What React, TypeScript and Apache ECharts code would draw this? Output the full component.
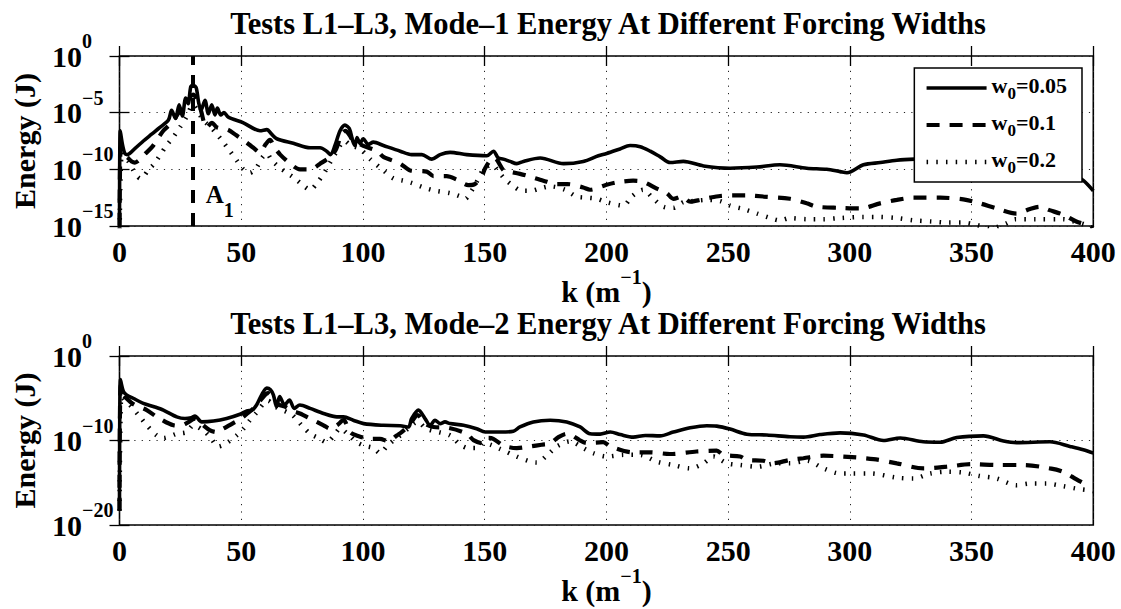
import React, { useEffect, useRef } from "react";
import * as echarts from "echarts";

const FF = "Liberation Serif";

const chartTitles = [
  "Tests L1–L3, Mode–1 Energy At Different Forcing Widths",
  "Tests L1–L3, Mode–2 Energy At Different Forcing Widths",
];
const seriesNames = ["w0=0.05", "w0=0.1", "w0=0.2"];
const kAxis = { min: 0, max: 400, step: 50 };
const energyAxes = [
  { min: -15, max: 0, step: 5 },
  { min: -20, max: 0, step: 10 },
];
const markerK = 30;
const markerLabelAt: [number, number] = [35.4, -12.78];

// [k (1/m), log10(Energy / J)]
const mode1W005: [number, number][] = [
  [0, -17], [0.3, -6.6], [1.2, -7.8], [2.2, -8.6], [3.2, -8.7], [6.4, -8.15], [9.8, -7.5], [13.2, -6.9],
  [16.6, -6.3], [20.1, -5.65], [21.4, -4.8], [23, -5.5], [24.5, -4.3], [25.8, -5.3], [27.2, -3.7], [28.2, -4.2],
  [29.3, -2.7], [30.3, -2.6], [31.5, -2.8], [32.5, -4.1], [33.5, -4.8], [35.1, -3.9], [36.5, -5.1], [37.9, -4.3],
  [39.2, -5.2], [40.2, -4.6], [41.6, -5.2], [42.9, -5.0], [44.7, -5.4], [50.9, -5.9], [57.7, -6.6], [60.5, -6.5],
  [62.5, -6.9], [64.6, -7.3], [71.4, -7.7], [78.3, -8.1], [82.4, -8.1], [85.1, -8.4], [86.7, -8.7], [88.5, -7.9],
  [90.6, -6.6], [92.6, -6.1], [94.4, -6.4], [95.8, -7.5], [96.7, -7.9], [97.6, -7.2], [98.8, -7.7], [100.1, -7.3],
  [102.2, -7.8], [104.3, -7.6], [108.4, -7.9], [115.3, -8.4], [120, -8.7], [124.2, -8.7], [128.3, -9.1], [131.7, -8.7],
  [135.8, -8.5], [142.6, -8.7], [150.9, -8.8], [153.6, -8.4], [155.6, -9.0], [157.7, -9.1], [160.4, -9.3], [163.2, -9.5],
  [165.9, -9.3], [172.8, -9.0], [182.4, -9.5], [190.5, -9.3], [196.7, -8.8], [200.1, -8.6], [205.6, -8.2], [209.7, -7.9],
  [213.9, -8.0], [218, -8.4], [222.1, -8.9], [226.2, -9.4], [231.6, -9.3], [239.9, -9.7], [250.8, -9.9], [261.8, -9.8],
  [271.3, -9.6], [282.3, -9.9], [290.5, -10.0], [296, -10.2], [298.8, -10.3], [305.6, -9.6], [312.5, -9.4], [319.3, -9.2],
  [326.8, -9.1], [340, -9.0], [355, -9.1], [370, -9.5], [385, -10.1], [392, -10.5], [396, -11.0], [400, -11.9],
];
const mode1W01: [number, number][] = [
  [0, -17], [0.5, -8.0], [1.5, -8.6], [3.5, -9.0], [5, -9.3], [6.3, -9.4], [8, -9.2], [10.2, -8.7], [13.5, -8.0],
  [18, -6.6], [21.4, -5.9], [24, -5.1], [27, -4.3], [30.2, -3.4], [33, -4.5], [35.8, -6.3], [38, -5.9], [40, -6.3],
  [44.5, -6.5], [48, -7.0], [52, -7.6], [55, -8.1], [57.7, -8.5], [60, -7.8], [61.8, -7.4], [63.5, -8.0], [66, -8.7],
  [70.7, -9.6], [74.1, -10.0], [78.3, -10.0], [82.4, -9.5], [86.5, -8.9], [89, -8.2], [91, -7.0], [92.8, -6.6],
  [94.5, -7.0], [96, -7.5], [98, -7.7], [101, -8.0], [105.9, -8.4], [108.4, -8.9], [115.3, -9.5], [119.4, -10.1],
  [126.2, -10.2], [129, -10.6], [134.4, -10.6], [138.5, -10.9], [143.3, -11.4], [146, -11.3], [149, -10.5], [150.2, -9.9],
  [152.3, -9.2], [154, -9.0], [157.8, -10.1], [160, -10.2], [164.5, -10.4], [168, -10.6], [174.1, -11.0], [179.6, -11.3],
  [184, -11.3], [190.5, -11.6], [193.3, -11.8], [199.5, -11.4], [204.3, -11.15], [211, -11.0], [215.1, -11.1], [220.7, -11.7],
  [224.8, -12.1], [227.5, -12.6], [231, -12.4], [234.4, -12.85], [238.5, -12.7], [242.6, -12.5], [246.7, -12.35], [252.2, -12.3],
  [258, -12.3], [264.5, -12.4], [275.4, -12.6], [282.3, -13.0], [286.4, -13.3], [296, -13.4], [304.2, -13.45], [312.4, -13.0],
  [319.3, -12.7], [326.2, -12.5], [337.1, -12.5], [346.6, -12.65], [353.4, -13.0], [360.3, -13.45], [368.5, -13.9], [374, -13.5],
  [378, -13.3], [382, -13.6], [387.6, -14.0], [393, -14.6], [397.2, -14.9], [400, -15.2],
];
const mode1W02: [number, number][] = [
  [0, -17], [1, -8.5], [2.5, -9.0], [4, -9.4], [5.5, -10.0], [6.9, -10.5], [8.5, -10.8], [10, -10.6], [12, -10.0],
  [13.9, -9.6], [16.5, -8.8], [19.3, -7.9], [21.9, -7.2], [24.8, -6.3], [27.5, -5.4], [30.2, -4.3], [33, -5.2], [35, -5.8],
  [37.2, -6.2], [40, -6.9], [42.6, -7.6], [45.4, -8.4], [48.1, -9.2], [50.9, -10.0], [53.6, -10.3], [56.4, -9.8], [58.5, -9.0],
  [60.5, -8.6], [62.5, -9.2], [65, -9.7], [68, -10.2], [71.4, -10.7], [74.8, -11.3], [78.3, -11.8], [81.5, -11.1], [84.4, -10.2],
  [86.5, -9.4], [89, -8.5], [92.5, -7.5], [95, -7.9], [98.8, -8.2], [103, -9.1], [108.4, -10.1], [112.5, -10.8], [116.6, -11.0],
  [120, -11.2], [125, -11.6], [130, -11.9], [135.8, -12.1], [140, -12.4], [142, -12.6], [144.3, -12.0], [147, -11.0], [149.5, -10.0],
  [153, -9.6], [156, -10.3], [158.5, -10.9], [161.3, -11.4], [165.4, -11.9], [168.8, -11.9], [172.5, -11.7], [176.9, -11.5],
  [183, -11.8], [187.8, -12.4], [192, -12.5], [196, -12.6], [200.1, -12.9], [207, -13.2], [210.4, -12.4], [215.1, -11.8],
  [219.3, -12.6], [223.4, -13.3], [227.5, -13.4], [231.6, -12.9], [235.7, -12.8], [241.2, -12.7], [246.7, -12.8], [250.8, -13.2],
  [256.3, -13.5], [261.8, -13.9], [267.3, -14.3], [271.3, -14.5], [275.4, -14.3], [282.3, -14.4], [289.1, -14.4], [296, -14.3],
  [305.6, -14.2], [312, -14.2], [319.3, -14.3], [326, -14.5], [333.5, -14.6], [340.4, -14.7], [346.6, -14.7], [352, -14.9],
  [358, -15.2], [364, -14.8], [368, -14.4], [376, -14.4], [387.6, -14.4], [392, -14.6], [397, -14.9], [400, -15.3],
];

const mode2W005: [number, number][] = [
  [0, -18.3], [0.4, -2.8], [1.6, -4.2], [2.9, -4.6], [5.6, -5.0], [9.8, -5.6], [14.2, -6.0], [18, -6.4], [23.5, -7.2],
  [26.9, -7.4], [29.5, -7.3], [31, -7.1], [33.8, -7.8], [38.6, -7.7], [44, -7.4], [49.5, -6.9], [52.3, -6.5], [54.5, -6.4],
  [56.3, -5.8], [58.4, -4.6], [60.5, -3.8], [62, -4.0], [63.2, -4.6], [64.5, -6.0], [65.8, -4.8], [67.8, -5.8], [69.8, -5.2],
  [71.8, -6.2], [74.1, -5.8], [78.3, -6.2], [83.8, -6.8], [89.3, -7.2], [92, -7.2], [96, -7.6], [100.3, -8.0], [108.4, -8.2],
  [115.3, -8.25], [118.7, -8.4], [120, -7.4], [122.8, -6.4], [125.5, -7.4], [127.6, -8.2], [129.6, -7.6], [131.7, -8.0],
  [133.7, -7.8], [135.8, -8.0], [141.3, -8.2], [146.7, -8.6], [150.2, -9.0], [156.3, -9.0], [161.8, -8.9], [164.5, -8.4],
  [170, -7.8], [176.9, -7.6], [183.7, -7.8], [189.2, -8.4], [193.3, -9.2], [197.4, -9.25], [201.6, -9.0], [205.7, -9.3],
  [211, -9.6], [216, -9.4], [222, -9.45], [227.5, -9.0], [234.4, -8.5], [241.2, -8.25], [245.3, -8.3], [250.8, -8.65],
  [257.7, -9.25], [265.9, -9.35], [275.4, -9.55], [281, -9.6], [287.7, -9.3], [296, -9.1], [305.6, -9.35], [313.8, -10.0],
  [320.7, -9.7], [330.2, -10.15], [337.1, -10.2], [343.9, -9.65], [354.9, -9.45], [363.1, -10.05], [368.5, -10.25],
  [382.2, -10.15], [390.4, -10.7], [395.9, -11.1], [400, -11.5],
];
const mode2W01: [number, number][] = [
  [0, -18.3], [0.5, -3.4], [1.6, -4.6], [4.3, -5.4], [6.3, -5.8], [11.2, -6.4], [15.3, -7.2], [22.2, -8.2], [24.9, -8.25],
  [27.6, -7.95], [31, -7.4], [34.4, -8.2], [37.2, -8.8], [39.9, -9.0], [42.6, -8.6], [46.7, -7.95], [49.5, -7.5], [52.5, -6.8],
  [55, -6.2], [58, -5.2], [61, -4.4], [63, -5.0], [65, -5.7], [68, -6.0], [71, -6.5], [74.1, -6.8], [78.3, -7.4], [83.8, -8.2],
  [86.5, -8.6], [89.3, -8.2], [92, -7.6], [94.7, -9.0], [97.4, -9.4], [102.9, -9.8], [107, -9.8], [110.4, -10.1], [113.9, -9.4],
  [115.9, -9.0], [119, -8.2], [122.5, -7.0], [125.5, -8.0], [129, -8.4], [135, -8.5], [142.7, -9.2], [145.4, -9.95],
  [149.5, -10.35], [151.6, -9.7], [153.5, -9.8], [157.8, -10.6], [163.2, -10.9], [168.7, -10.7], [173.4, -10.5], [176.9, -10.35],
  [180.3, -9.6], [183.7, -9.2], [185.7, -9.35], [189.2, -10.0], [192, -10.3], [198.7, -10.2], [201.6, -10.7], [211, -11.4],
  [217.8, -11.4], [226.1, -11.6], [237, -11.3], [245.3, -11.2], [248, -11.7], [254.9, -11.9], [257.7, -12.3], [264.5, -12.4],
  [268, -12.7], [275.4, -12.3], [280.9, -12.1], [289.1, -11.8], [297.4, -11.9], [309.7, -12.2], [319.3, -12.7], [330.2, -13.3],
  [339.8, -13.1], [350, -12.8], [360.3, -12.9], [371.3, -12.9], [382.2, -13.3], [387.6, -13.7], [393.1, -14.6], [397, -15.2],
];
const mode2W02: [number, number][] = [
  [0, -18.3], [0.8, -4.2], [1.6, -5.0], [4.3, -5.8], [8.4, -7.2], [11.2, -8.2], [15.3, -9.4], [18, -9.7], [23.5, -9.2],
  [27.6, -9.0], [30.3, -8.2], [34.4, -8.8], [37.2, -9.6], [40.6, -10.7], [44, -10.3], [48.1, -9.4], [50.9, -8.6], [53, -7.8],
  [56, -6.8], [61, -5.3], [64, -6.0], [67, -6.4], [71, -7.0], [74.8, -8.2], [78.3, -9.2], [81.7, -9.7], [85.1, -10.2],
  [87.9, -9.5], [90.6, -8.6], [94.7, -9.5], [97.4, -10.2], [100.3, -10.6], [104.4, -10.9], [107, -11.5], [109.8, -10.7],
  [112.5, -10.0], [115.3, -9.4], [118.5, -8.6], [122.5, -7.8], [126, -8.6], [131, -9.0], [135.8, -9.4], [140, -10.5],
  [143.4, -10.9], [147.5, -10.9], [149.5, -10.3], [152.3, -10.5], [156.3, -11.0], [163.2, -11.9], [168.7, -12.5], [171.4, -12.6],
  [176.9, -11.4], [179.6, -10.7], [185.1, -10.1], [190.5, -10.9], [194.6, -11.5], [200.1, -11.9], [207, -11.7], [213.8, -11.7],
  [220.7, -12.5], [227.5, -12.9], [234.4, -13.3], [239.9, -12.7], [244, -11.9], [249.5, -12.7], [254.9, -12.9], [261.8, -13.1],
  [270, -12.7], [275.4, -12.7], [282.3, -12.4], [289.1, -13.3], [296, -13.9], [300.1, -13.9], [308.3, -13.9], [319.3, -14.4],
  [326.2, -14.5], [333.1, -13.9], [339.8, -13.7], [346.6, -13.8], [353.4, -14.2], [360.3, -14.5], [368.5, -15.3], [374, -15.1],
  [380.8, -15.1], [387.6, -15.4], [393.1, -15.7], [398.5, -15.9], [400, -16.0],
];

const lineStyles: any[] = [
  { width: 3.6, type: "solid" },
  { width: 4.2, type: [13, 10] },
  { width: 4.5, type: [1.5, 8.2] },
];

const BLACK = "#000";
const gridDots = { color: "#222", width: 1, type: [1.2, 6.2] };
const tickStyle = { color: BLACK, width: 1.3 };

const supLabel = (e: number) => (e < 0 ? "−" + -e : String(e));

function buildOption() {
  const grids = [
    { left: 119.5, right: 27.7, top: 56, height: 170 },
    { left: 119.5, right: 27.7, top: 356, height: 169 },
  ];
  const xNameGaps = [39, 37];
  const xAxes: any[] = [];
  const yAxes: any[] = [];
  grids.forEach((_, gi) => {
    xAxes.push({
      gridIndex: gi,
      type: "value",
      min: kAxis.min,
      max: kAxis.max,
      interval: kAxis.step,
      position: "bottom",
      axisLine: { show: false },
      axisTick: { inside: true, length: 10, lineStyle: tickStyle },
      axisLabel: {
        margin: 10,
        color: BLACK,
        fontFamily: FF,
        fontWeight: "bold",
        fontSize: 30,
      },
      splitLine: { show: true, lineStyle: gridDots },
      name: "{b|k (m}{s|−1}{b|)}",
      nameLocation: "middle",
      nameGap: xNameGaps[gi],
      nameTextStyle: {
        fontFamily: FF,
        rich: {
          b: { fontFamily: FF, fontWeight: "bold", fontSize: 30, lineHeight: 50, color: BLACK },
          s: { fontFamily: FF, fontWeight: "bold", fontSize: 20, verticalAlign: "top", color: BLACK },
        },
      },
    });
    xAxes.push({
      gridIndex: gi,
      type: "value",
      min: kAxis.min,
      max: kAxis.max,
      interval: kAxis.step,
      position: "top",
      axisLine: { show: false },
      axisTick: { inside: true, length: 10, lineStyle: tickStyle },
      axisLabel: { show: false },
      splitLine: { show: false },
    });
    const ea = energyAxes[gi];
    yAxes.push({
      gridIndex: gi,
      type: "value",
      min: ea.min,
      max: ea.max,
      interval: ea.step,
      position: "left",
      axisLine: { show: false },
      axisTick: { inside: true, length: 10, lineStyle: tickStyle },
      axisLabel: {
        align: "left",
        margin: 67.5,
        fontFamily: FF,
        formatter: (v: number) => `{b|10}{s|${supLabel(Math.round(v))}}`,
        rich: {
          b: { fontFamily: FF, fontWeight: "bold", fontSize: 30, lineHeight: 50, color: BLACK },
          s: { fontFamily: FF, fontWeight: "bold", fontSize: 20, verticalAlign: "top", color: BLACK },
        },
      },
      splitLine: { show: true, lineStyle: gridDots },
      name: "Energy (J)",
      nameLocation: "middle",
      nameGap: 80,
      nameTextStyle: { fontFamily: FF, fontWeight: "bold", fontSize: 30, color: BLACK },
    });
    yAxes.push({
      gridIndex: gi,
      type: "value",
      min: ea.min,
      max: ea.max,
      interval: ea.step,
      position: "right",
      axisLine: { show: false },
      axisTick: { inside: true, length: 10, lineStyle: tickStyle },
      axisLabel: { show: false },
      splitLine: { show: false },
    });
  });

  const sets = [
    [mode1W005, mode1W01, mode1W02],
    [mode2W005, mode2W01, mode2W02],
  ];
  const series: any[] = [];
  sets.forEach((set, gi) =>
    set.forEach((d, si) => {
      const s: any = {
        type: "line",
        name: seriesNames[si],
        xAxisIndex: gi * 2,
        yAxisIndex: gi * 2,
        data: d,
        symbol: "none",
        showSymbol: false,
        smooth: 0.3,
        clip: true,
        silent: true,
        lineStyle: { color: BLACK, width: lineStyles[si].width, type: lineStyles[si].type, cap: "butt" },
        itemStyle: { color: BLACK },
      };
      if (gi === 0 && si === 0) {
        s.markLine = {
          silent: true,
          symbol: ["none", "none"],
          label: { show: false },
          lineStyle: { color: BLACK, width: 4, type: [13, 10] },
          data: [{ xAxis: markerK }],
        };
        s.markPoint = {
          silent: true,
          symbol: "circle",
          symbolSize: 0,
          itemStyle: { color: "transparent" },
          label: {
            show: true,
            position: "inside",
            align: "left",
            verticalAlign: "middle",
            color: BLACK,
            fontFamily: FF,
            formatter: "{a|A}{s|1}",
            rich: {
              a: { fontFamily: FF, fontWeight: "bold", fontSize: 25, verticalAlign: "top", color: BLACK },
              s: { fontFamily: FF, fontWeight: "bold", fontSize: 20, verticalAlign: "bottom", lineHeight: 38.5, color: BLACK },
            },
          },
          data: [{ coord: markerLabelAt }],
        };
      }
      series.push(s);
    })
  );

  return {
    animation: false,
    backgroundColor: "#fff",
    textStyle: { fontFamily: FF },
    title: chartTitles.map((t, i) => ({
      text: t,
      left: 608,
      top: [8, 308][i],
      padding: 0,
      textAlign: "center",
      textStyle: { fontFamily: FF, fontWeight: "bold", fontSize: 30.5, color: BLACK },
    })),
    grid: grids.map((g) => ({ ...g, show: true, borderColor: BLACK, borderWidth: 1.6, backgroundColor: "transparent" })),
    legend: {
      data: seriesNames,
      orient: "vertical",
      right: 39,
      top: 68,
      padding: [6, 15, 6, 10],
      itemWidth: 60,
      itemHeight: 14,
      itemGap: 9,
      selectedMode: false,
      backgroundColor: "#fff",
      borderColor: BLACK,
      borderWidth: 1.5,
      borderRadius: 0,
      lineStyle: { width: "inherit" },
      itemStyle: { color: "transparent", borderColor: "transparent", borderWidth: 0, opacity: 0 },
      formatter: (name: string) => `{w|w}{s|0}{t|${name.slice(2)}}`,
      textStyle: {
        color: BLACK,
        fontFamily: FF,
        rich: {
          w: { fontFamily: FF, fontWeight: "bold", fontSize: 22, verticalAlign: "top", color: BLACK },
          t: { fontFamily: FF, fontWeight: "bold", fontSize: 22, verticalAlign: "top", color: BLACK },
          s: { fontFamily: FF, fontWeight: "bold", fontSize: 17, verticalAlign: "bottom", lineHeight: 28, color: BLACK },
        },
      },
    },
    xAxis: xAxes,
    yAxis: yAxes,
    series,
  };
}

export default function App() {
  const ref = useRef<HTMLDivElement>(null);
  useEffect(() => {
    if (!ref.current) return;
    const chart = echarts.init(ref.current, null, { renderer: "svg" });
    chart.setOption(buildOption() as any);
    return () => chart.dispose();
  }, []);
  return (
    <div
      ref={ref}
      style={{ position: "fixed", left: 0, top: 0, width: 1121, height: 609, background: "#fff" }}
    />
  );
}
